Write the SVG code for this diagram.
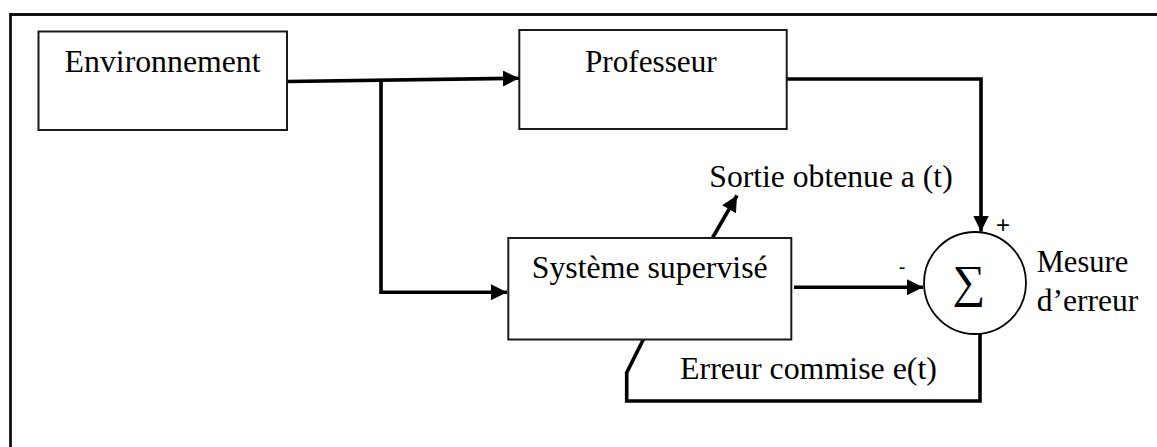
<svg xmlns="http://www.w3.org/2000/svg" width="1157" height="447" viewBox="0 0 1157 447">
  <style>
    .box { fill: #ffffff; stroke: #1a1a1a; stroke-width: 2; }
    .wire { fill: none; stroke: #000000; stroke-width: 3.6; stroke-linejoin: miter; }
    .lbl { font-family: 'Liberation Serif', Tinos, 'Times New Roman', Times, serif; font-size: 32px; fill: #000000; }
    .sign { font-family: 'Liberation Sans', Arial, sans-serif; fill: #000000; }
  </style>
  <defs>
    <marker id="head" markerUnits="userSpaceOnUse" markerWidth="18" markerHeight="18" refX="16" refY="8" orient="auto">
      <path d="M0,0 L16,8 L0,16 Z" fill="#000000"/>
    </marker>
  </defs>

  <rect width="1157" height="447" fill="#ffffff"/>

  <!-- outer frame (top and left edges) -->
  <path d="M10.5,447 V14.5 H1157" fill="none" stroke="#111111" stroke-width="2.8"/>

  <!-- connectors -->
  <g id="connectors">
    <path class="wire" d="M287,81.5 L519,78.3" marker-end="url(#head)"/>
    <path class="wire" d="M381,80.2 V292.3 H507" marker-end="url(#head)"/>
    <path class="wire" d="M787,79 H981 V231.5" marker-end="url(#head)"/>
    <path class="wire" d="M712.7,237.5 L737,195.5" marker-end="url(#head)"/>
    <path class="wire" d="M794,287.3 H923" marker-end="url(#head)"/>
    <path class="wire" d="M980,334 V401 H626.7 V372.7 L643.3,339.5"/>
  </g>

  <g id="environnement">
    <rect class="box" x="38.5" y="31.5" width="248.5" height="98.5"/>
    <text class="lbl" x="64.6" y="72" textLength="196" lengthAdjust="spacingAndGlyphs">Environnement</text>
  </g>

  <g id="professeur">
    <rect class="box" x="519.3" y="30" width="267.4" height="99"/>
    <text class="lbl" x="585" y="72" textLength="131.7" lengthAdjust="spacingAndGlyphs">Professeur</text>
  </g>

  <g id="systeme">
    <rect class="box" x="508.3" y="238" width="283" height="101.5"/>
    <text class="lbl" x="531.7" y="278" textLength="236" lengthAdjust="spacingAndGlyphs">Système supervisé</text>
  </g>

  <g id="sommateur">
    <circle cx="975" cy="283" r="51" fill="#ffffff" stroke="#000000" stroke-width="1.8"/>
    <text class="lbl" x="969" y="297" style="font-size:46px" text-anchor="middle">∑</text>
    <text class="sign" x="1003" y="233" style="font-size:24px" text-anchor="middle">+</text>
    <text class="sign" x="902" y="274" style="font-size:20px" text-anchor="middle">-</text>
  </g>

  <g id="labels">
    <text class="lbl" x="709.3" y="186.5" textLength="243.4" lengthAdjust="spacingAndGlyphs">Sortie obtenue a (t)</text>
    <text class="lbl" x="1036.7" y="272" textLength="91.6" lengthAdjust="spacingAndGlyphs">Mesure</text>
    <text class="lbl" x="1036.7" y="310.5" textLength="101.6" lengthAdjust="spacingAndGlyphs">d’erreur</text>
    <text class="lbl" x="680" y="378.5" textLength="257" lengthAdjust="spacingAndGlyphs">Erreur commise e(t)</text>
  </g>
</svg>
